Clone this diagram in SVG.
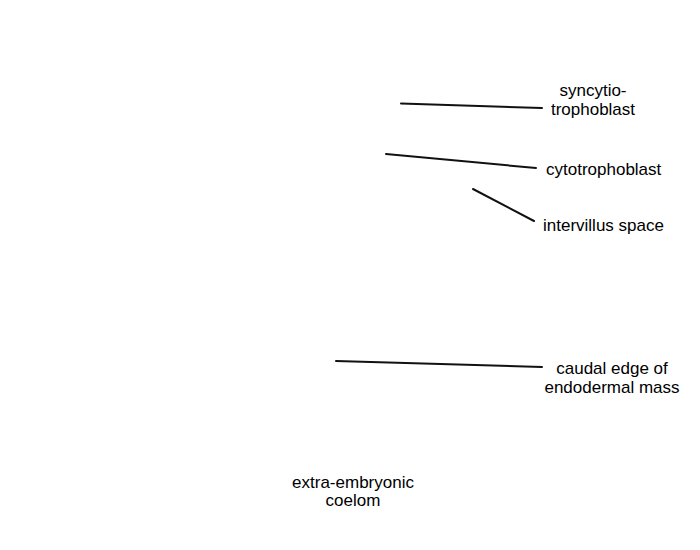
<svg xmlns="http://www.w3.org/2000/svg" width="700" height="550" viewBox="0 0 700 550">
<style>
.lbl{font-family:"Liberation Sans",Arial,sans-serif;font-size:17px;fill:#000}
.ln{stroke:#111;stroke-width:2;fill:none;stroke-linecap:round}
</style>
<rect width="700" height="550" fill="#fff"/>
<g id="connectors">
<line class="ln" x1="401" y1="103.5" x2="542" y2="108"/>
<line class="ln" x1="386" y1="154" x2="536" y2="168"/>
<line class="ln" x1="473" y1="189" x2="534" y2="221"/>
<line class="ln" x1="336" y1="361" x2="542" y2="367"/>
</g>
<g id="syncytiotrophoblast"><text class="lbl" text-anchor="middle"><tspan x="593" y="96">syncytio-</tspan><tspan x="593" y="115">trophoblast</tspan></text></g>
<g id="cytotrophoblast"><text class="lbl" x="546" y="175">cytotrophoblast</text></g>
<g id="intervillus-space"><text class="lbl" x="543" y="231">intervillus space</text></g>
<g id="caudal-edge"><text class="lbl" text-anchor="middle"><tspan x="612" y="374">caudal edge of</tspan><tspan x="612" y="393">endodermal mass</tspan></text></g>
<g id="extra-embryonic-coelom"><text class="lbl" text-anchor="middle"><tspan x="353" y="488">extra-embryonic</tspan><tspan x="353" y="506">coelom</tspan></text></g>
</svg>
